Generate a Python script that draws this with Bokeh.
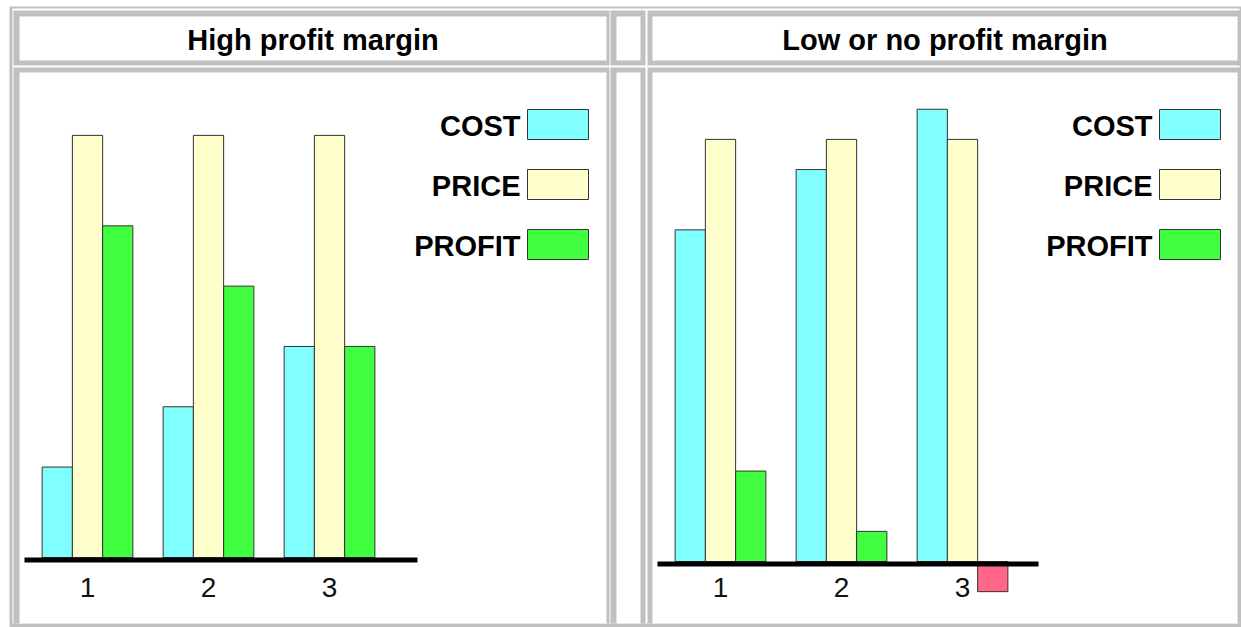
from bokeh.plotting import figure
from bokeh.models import Range1d, ColumnDataSource
from bokeh.transform import dodge
from bokeh.core.properties import value
from bokeh.embed import file_html
from bokeh.resources import INLINE

# ---- data -------------------------------------------------------------
groups = [1, 2, 3]
group_labels = ["1", "2", "3"]
series = ["COST", "PRICE", "PROFIT"]
titles = ["High profit margin", "Low or no profit margin"]

high_cost = [1.5, 2.5, 3.5]
high_price = [7.0, 7.0, 7.0]
high_profit = [5.5, 4.5, 3.5]

low_cost = [5.5, 6.5, 7.5]
low_price = [7.0, 7.0, 7.0]
low_profit = [1.5, 0.5, -0.5]

# ---- styling ----------------------------------------------------------
W, H = 1241, 627
GRAY = "#c0c0c0"
EDGE = "#333333"
COLORS = {"COST": "#80ffff", "PRICE": "#ffffcc", "PROFIT": "#40ff40"}
LOSS = "#ff6688"
FONT = value("Liberation Sans")

# screen layout (pixels from the top-left corner)
GROUP_STEP = 121.0      # px between group centres
UNIT = 60.3             # px per value unit
BAR_W = 0.25            # in group units
panels = [
    # first group centre x, baseline y, axis line x extent, legend box left
    dict(name="l", x0=87.0, base=557.0, axis=(24, 417), legend_left=527,
         title_x=312.5),
    dict(name="r", x0=720.0, base=561.0, axis=(657, 1038), legend_left=1159,
         title_x=944.5),
]

p = figure(width=W, height=H, x_range=Range1d(0, W), y_range=Range1d(H, 0),
           output_backend="svg", toolbar_location=None, min_border=0,
           background_fill_color="white", border_fill_color="white")
p.axis.visible = False
p.grid.visible = False
p.outline_line_color = None

# ---- table frame ------------------------------------------------------
def box(l, t, r, b, color):
    p.quad(left=[l], right=[r], top=[t], bottom=[b], fill_color=color,
           line_color=None)

box(9, 6, 1241, 627, GRAY)
box(12, 8, 1239, 623, "white")
cols = [(13, 609, 19, 606), (610, 645, 616, 640), (647, 1240, 652, 1237)]
rows = [(10, 65, 16, 60), (67, 623, 72, 623)]
for (ol, orr, il, ir) in cols:
    for (ot, ob, it, ib) in rows:
        box(ol, ot, orr, ob, GRAY)
        box(il, it, ir, ib, "white")

# ---- panels -----------------------------------------------------------
data = [(high_cost, high_price, high_profit), (low_cost, low_price, low_profit)]
p.extra_x_ranges = {}
p.extra_y_ranges = {}
for panel, (cost, price, profit), title in zip(panels, data, titles):
    xn, yn = "x" + panel["name"], "y" + panel["name"]
    x0, base = panel["x0"], panel["base"]
    p.extra_x_ranges[xn] = Range1d(1 - x0 / GROUP_STEP, 1 + (W - x0) / GROUP_STEP)
    p.extra_y_ranges[yn] = Range1d(-(H - base) / UNIT, base / UNIT)

    src = ColumnDataSource(dict(
        g=groups, label=group_labels, COST=cost, PRICE=price, PROFIT=profit,
        profit_color=[COLORS["PROFIT"] if v >= 0 else LOSS for v in profit],
    ))
    for i, s in enumerate(series):
        fill = "profit_color" if s == "PROFIT" else COLORS[s]
        p.vbar(x=dodge("g", (i - 1) * BAR_W), top=s, bottom=0, width=BAR_W,
               source=src, fill_color=fill, line_color=EDGE, line_width=1,
               x_range_name=xn, y_range_name=yn)

    # zero line
    a0, a1 = panel["axis"]
    box(a0, base, a1, base + 5, "black")

    # category labels
    p.text(x="g", y=587, text="label", source=src, x_range_name=xn,
           text_font=FONT, text_font_size="28px", text_color="#111111",
           text_align="center", text_baseline="alphabetic")

    # panel title
    p.text(x=[panel["title_x"]], y=[39], text=[title], text_font=FONT,
           text_font_size="29px", text_font_style="bold", text_color="black",
           text_align="center", text_baseline="alphabetic")

    # legend: label to the left of the swatch
    ll = panel["legend_left"]
    tops = [109, 169, 229]
    p.quad(left=[ll] * 3, right=[ll + 61] * 3, top=tops,
           bottom=[t + 30 for t in tops],
           fill_color=[COLORS[s] for s in series], line_color=EDGE, line_width=1)
    p.text(x=[ll - 7] * 3, y=[t + 16 for t in tops], text=series, text_font=FONT,
           text_font_size="29px", text_font_style="bold", text_color="black",
           text_align="right", text_baseline="alphabetic")

open("out.html", "w").write(file_html(p, INLINE))
